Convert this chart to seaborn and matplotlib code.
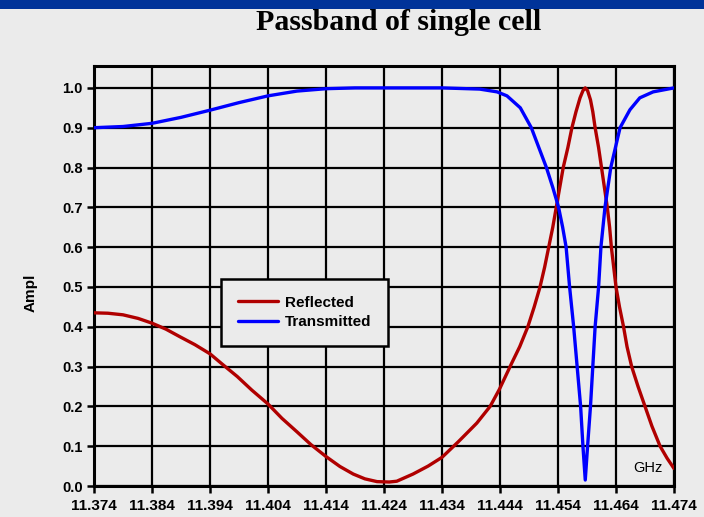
import matplotlib
matplotlib.use("Agg")
import matplotlib.pyplot as plt
import seaborn as sns
import pandas as pd
from matplotlib.patches import Rectangle

# Frequency sweep (GHz) and amplitudes of the single-cell passband
freq_reflected = [11.374, 11.3764, 11.379, 11.3816, 11.384, 11.3864, 11.3888, 11.3914,
                  11.394, 11.3962, 11.3987, 11.4012, 11.404, 11.4064, 11.409, 11.4114,
                  11.414, 11.4164, 11.4187, 11.4207, 11.4228, 11.4249, 11.4262, 11.429,
                  11.4316, 11.434, 11.4368, 11.4383, 11.440, 11.4423, 11.4439, 11.446,
                  11.4474, 11.4488, 11.4499, 11.4509, 11.4517, 11.4524, 11.4531, 11.4537,
                  11.4543, 11.4549, 11.4557, 11.4564, 11.4571, 11.4578, 11.4583, 11.4587,
                  11.4591, 11.4596, 11.4600, 11.4604, 11.4610, 11.4615, 11.4620, 11.4625,
                  11.4629, 11.4632, 11.4636, 11.4640, 11.4646, 11.4653, 11.4659, 11.4667,
                  11.4678, 11.4690, 11.4702, 11.4716, 11.4728, 11.474]
ampl_reflected = [0.435, 0.434, 0.430, 0.421, 0.409, 0.394, 0.375, 0.355,
                  0.332, 0.305, 0.275, 0.241, 0.206, 0.170, 0.136, 0.104,
                  0.074, 0.049, 0.030, 0.018, 0.011, 0.010, 0.012, 0.030,
                  0.050, 0.072, 0.111, 0.133, 0.158, 0.200, 0.243, 0.308,
                  0.350, 0.400, 0.450, 0.500, 0.550, 0.600, 0.650, 0.700,
                  0.750, 0.800, 0.850, 0.900, 0.940, 0.975, 0.993, 1.000,
                  0.993, 0.970, 0.940, 0.900, 0.850, 0.800, 0.750, 0.700,
                  0.650, 0.600, 0.550, 0.500, 0.450, 0.400, 0.350, 0.300,
                  0.250, 0.200, 0.150, 0.100, 0.070, 0.044]

freq_transmitted = [11.374, 11.379, 11.384, 11.389, 11.394, 11.399, 11.404, 11.409,
                    11.414, 11.419, 11.434, 11.4405, 11.4435, 11.4452, 11.4475, 11.4494,
                    11.4507, 11.452, 11.4531, 11.4541, 11.4548, 11.4554, 11.456, 11.4567,
                    11.4573, 11.4579, 11.4583, 11.4587, 11.4591, 11.4596, 11.460, 11.4604,
                    11.461, 11.4614, 11.4621, 11.4631, 11.4647, 11.4664, 11.4681, 11.4704,
                    11.474]
ampl_transmitted = [0.900, 0.903, 0.911, 0.926, 0.944, 0.963, 0.980, 0.992,
                    0.998, 1.000, 1.000, 0.997, 0.990, 0.980, 0.950, 0.900,
                    0.850, 0.800, 0.750, 0.700, 0.650, 0.600, 0.500, 0.400,
                    0.300, 0.200, 0.100, 0.015, 0.100, 0.200, 0.300, 0.400,
                    0.500, 0.600, 0.700, 0.800, 0.900, 0.945, 0.975, 0.990,
                    1.000]

x_ticks = [11.374, 11.384, 11.394, 11.404, 11.414, 11.424, 11.434, 11.444, 11.454, 11.464, 11.474]
y_ticks = [0.0, 0.1, 0.2, 0.3, 0.4, 0.5, 0.6, 0.7, 0.8, 0.9, 1.0]

df = pd.concat([
    pd.DataFrame({"GHz": freq_reflected, "Ampl": ampl_reflected, "Signal": "Reflected"}),
    pd.DataFrame({"GHz": freq_transmitted, "Ampl": ampl_transmitted, "Signal": "Transmitted"}),
], ignore_index=True)

sns.set_theme(style="ticks")
plt.rcParams["font.family"] = ["Liberation Sans", "DejaVu Sans"]
plt.rcParams["text.color"] = "black"
plt.rcParams["axes.labelcolor"] = "black"
plt.rcParams["xtick.color"] = "black"
plt.rcParams["ytick.color"] = "black"

bg = "#ebebeb"
fig = plt.figure(figsize=(7.04, 5.17), dpi=100, facecolor=bg)
ax = fig.add_axes([94 / 704, 1 - 486 / 517, 580 / 704, 420 / 517])
ax.set_facecolor(bg)

# header band of the slide
fig.patches.append(Rectangle((0, 1 - 9 / 517), 1, 9 / 517, transform=fig.transFigure,
                             facecolor="#003399", edgecolor="none", zorder=0))

sns.lineplot(data=df, x="GHz", y="Ampl", hue="Signal",
             palette={"Reflected": "#b00000", "Transmitted": "#0000ff"},
             linewidth=2.4, sort=False, estimator=None, ax=ax, zorder=3)

ax.set_xlim(11.374, 11.474)
ax.set_ylim(0, 1.055)
ax.set_xticks(x_ticks)
ax.set_xticklabels([f"{t:.3f}" for t in x_ticks], fontsize=11, fontweight="bold")
ax.set_yticks(y_ticks)
ax.set_yticklabels([f"{t:.1f}" for t in y_ticks], fontsize=10.5, fontweight="bold")
ax.tick_params(axis="both", length=5, width=1.8, color="black")
ax.tick_params(axis="x", pad=4)
ax.tick_params(axis="y", pad=3)

ax.grid(True, color="black", linewidth=1.6)
ax.set_axisbelow(True)
for side in ["left", "bottom", "top", "right"]:
    ax.spines[side].set_color("black")
    ax.spines[side].set_linewidth(2.2)

ax.set_xlabel("")
ax.set_ylabel("Ampl", fontsize=11, fontweight="bold")
ax.yaxis.set_label_coords(-0.097, 0.46)
ax.text(11.4721, 0.045, "GHz", ha="right", va="center", fontsize=10.5, color="black", zorder=4)

fig.text(399 / 704, 1 - 23 / 517, "Passband of single cell", ha="center", va="center",
         fontsize=21.5, fontweight="bold", color="black",
         family=["Liberation Serif", "DejaVu Serif"])

leg = ax.legend(loc="upper left", bbox_to_anchor=(0.219, 0.493), frameon=True,
                fancybox=False, edgecolor="black", facecolor=bg, framealpha=1,
                prop={"weight": "bold", "size": 11}, handlelength=2.6,
                borderpad=1.1, labelspacing=0.35, handletextpad=0.5, borderaxespad=0)
leg.get_frame().set_linewidth(1.8)
leg.set_zorder(5)

fig.savefig("out.png", dpi=100, facecolor=bg)
